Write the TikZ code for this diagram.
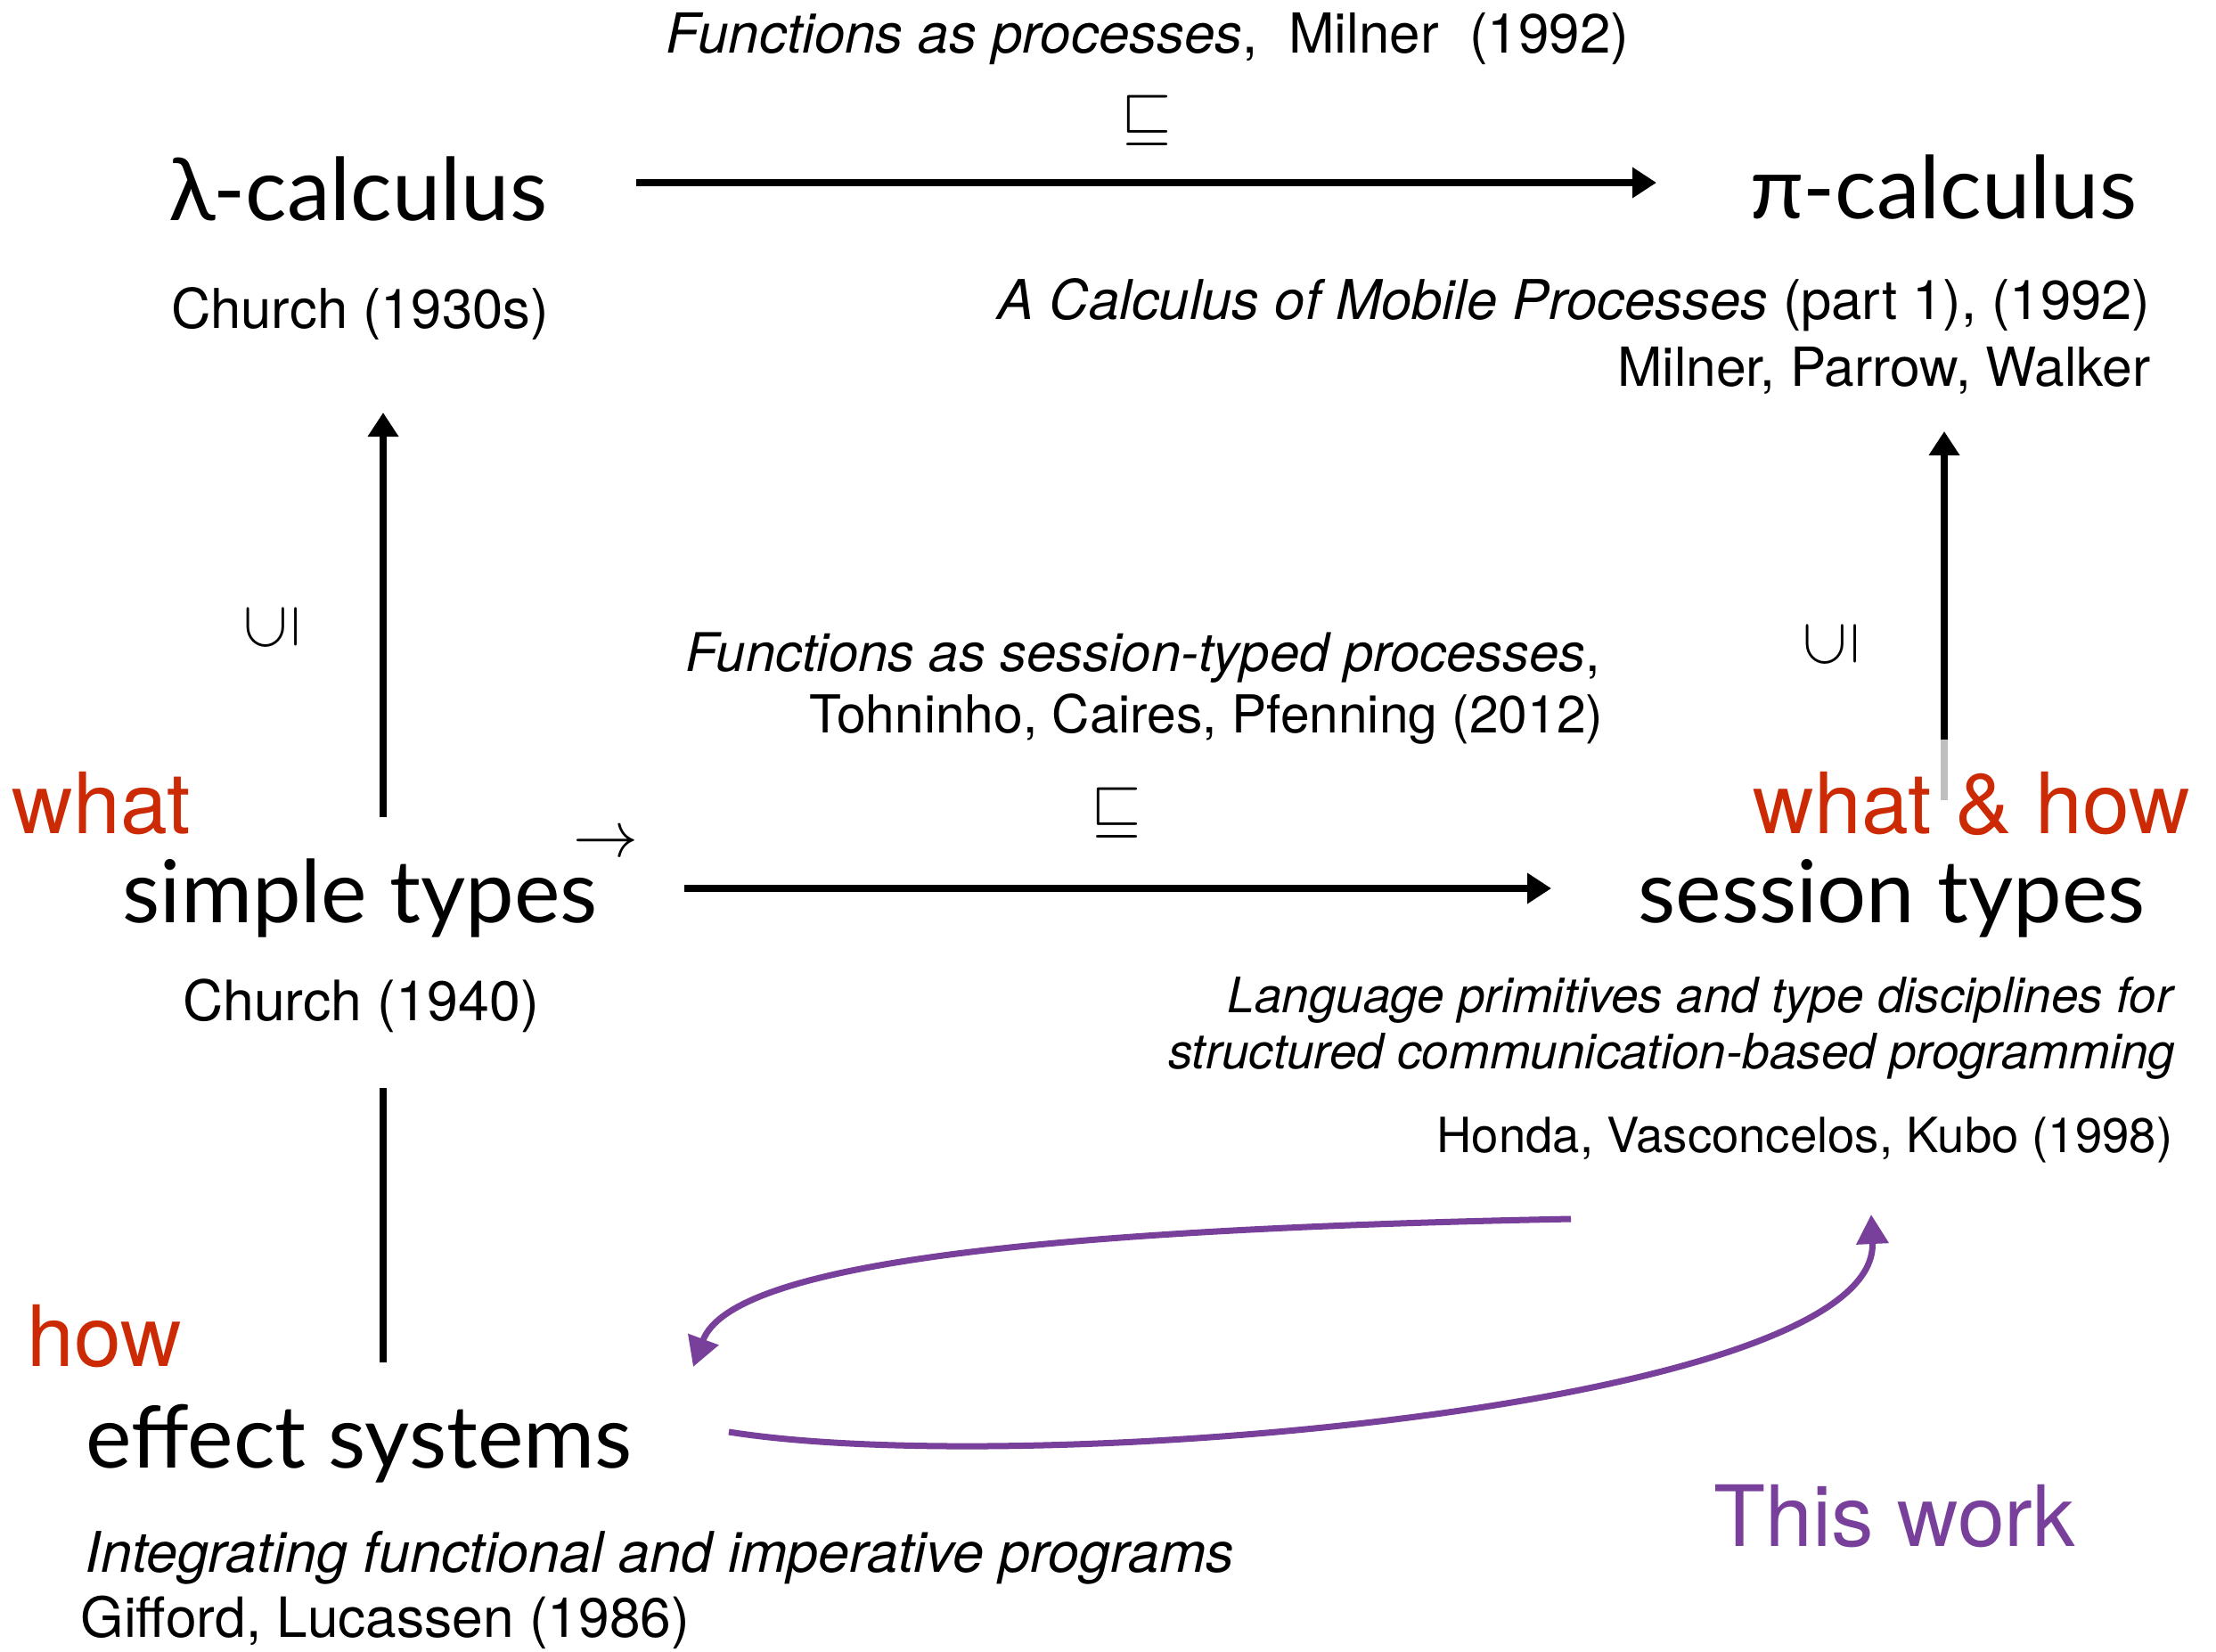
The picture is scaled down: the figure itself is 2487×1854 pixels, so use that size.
\documentclass[tikz,border=0pt]{standalone}
\usepackage{amssymb}
\usepackage{graphicx}
\usepackage{fontspec}
\setmainfont{TeX Gyre Heros}
\newfontfamily\calcfont{Lato}
\usetikzlibrary{arrows.meta}

\definecolor{whatred}{RGB}{204,41,5}
\definecolor{workpurple}{RGB}{120,64,155}

\newcommand{\paperfont}[1]{\fontsize{#1}{20}\selectfont}

\begin{document}
\begin{tikzpicture}[x=0.01cm, y=-0.01cm,
    calculus/.style={inner sep=0pt, anchor=base, font=\calcfont\fontsize{27.7}{32}\selectfont},
    paper/.style={inner sep=0pt, font=\paperfont{17}},
    keyword/.style={inner sep=0pt, anchor=base west, text=whatred, font=\fontsize{27}{32}\selectfont},
    relarrow/.style={line width=0.08cm, -{Triangle[length=0.27cm, width=0.33cm]}},
    workarrow/.style={line width=0.07cm, workpurple, -{Triangle[length=0.33cm, width=0.35cm]}}]
    \useasboundingbox (0,0) rectangle (2487,1854);

    % The calculi
    \node[calculus] (lambda) at (402,247) {λ-calculus};
    \node[calculus] (pi) at (2181,245) {π-calculus};
    \node[paper, font=\paperfont{17.5}] (church30) at (404,368) [anchor=base] {Church (1930s)};
    \node[paper, font=\paperfont{17.5}] (mobile) at (2414,358) [anchor=base east] {\textit{A Calculus of Mobile Processes} (part 1), (1992)};
    \node[paper, font=\paperfont{17.2}] (mpw) at (2414,433) [anchor=base east] {Milner, Parrow, Walker};

    % Top arrow: lambda into pi
    \node[paper, font=\paperfont{17.6}] (milner) at (1288,59) [anchor=base] {\textit{Functions as processes},\ \ Milner\ \ (1992)};
    \node[inner sep=0pt, font=\fontsize{20}{24}\selectfont] (sqtop) at (1287,135) {$\sqsubseteq$};
    \coordinate (lamE) at (714,205);
    \coordinate (piW) at (1859,205);
    \draw[relarrow] (lamE) -- (piW);

    % The types
    \node[calculus] (simple) at (404,1035) {simple types};
    \node[inner sep=0pt, font=\fontsize{21}{24}\selectfont] (fun) at (680,948) {$\rightarrow$};
    \node[paper, font=\paperfont{17.8}] (church40) at (405,1145) [anchor=base] {Church (1940)};
    \node[calculus] (session) at (2123,1035) {session types};
    \node[paper, font=\paperfont{15.6}] (lang) at (2442,1136) [anchor=base east] {\textit{Language primitives and type disciplines for}};
    \node[paper, font=\paperfont{15.6}] (struct) at (2442,1199) [anchor=base east] {\textit{structured communication-based programming}};
    \node[paper, font=\paperfont{15.5}] (honda) at (2439,1293) [anchor=base east] {Honda, Vasconcelos, Kubo (1998)};

    % Middle arrow: simple into session
    \node[paper] (sessfun) at (1797,753) [anchor=base east] {\textit{Functions as session-typed processes},};
    \node[paper, font=\paperfont{16.7}] (tcp) at (1800,822) [anchor=base east] {Tohninho, Caires, Pfenning (2012)};
    \node[inner sep=0pt, font=\fontsize{20}{24}\selectfont] (sqmid) at (1253,912) {$\sqsubseteq$};
    \coordinate (simE) at (768,997);
    \coordinate (sesW) at (1741,997);
    \draw[relarrow] (simE) -- (sesW);

    % Vertical arrows, types up to calculi
    \coordinate (simN) at (430,917);
    \coordinate (church30S) at (430,463);
    \draw[relarrow, line width=0.075cm] (simN) -- (church30S);
    \node[inner sep=0pt, font=\fontsize{20}{24}\selectfont] (supL) at (305,704) {\rotatebox{90}{$\subseteq$}};
    \coordinate (sesN) at (2182,830);
    \coordinate (sesNlow) at (2182,898);
    \coordinate (mpwS) at (2182,484);
    \draw[line width=0.075cm, black!25] (sesNlow) -- (sesN);
    \draw[relarrow, line width=0.075cm] (sesN) -- (mpwS);
    \node[inner sep=0pt, font=\fontsize{20}{24}\selectfont] (supR) at (2055,723) {\rotatebox{90}{$\subseteq$}};

    % what and how
    \node[keyword] (what) at (13,935) {what};
    \node[keyword] (whathow) at (1967,935) {what \& how};
    \node[keyword] (how) at (30,1533) {how};

    % Effect systems
    \node[calculus] (effect) at (403,1647) {effect systems};
    \node[paper, font=\paperfont{17.9}] (integ) at (95,1764) [anchor=base west] {\textit{Integrating functional and imperative programs}};
    \node[paper, font=\paperfont{17.7}] (gifford) at (90,1837) [anchor=base west] {Gifford, Lucassen (1986)};
    \coordinate (church40S) at (430,1221);
    \coordinate (effN) at (430,1529);
    \draw[line width=0.075cm] (church40S) -- (effN);

    % This work
    \node[keyword, text=workpurple] (work) at (1923,1735) {This work};
    \coordinate (hondaW) at (1763,1368);
    \coordinate (effNE) at (778,1534);
    \coordinate (effE) at (818,1607);
    \coordinate (hondaS) at (2100,1363);
    \draw[workarrow] (hondaW) .. controls (1150,1380) and (820,1420) .. (effNE);
    \draw[workarrow] (effE) .. controls (1150,1660) and (2110,1580) .. (hondaS);
\end{tikzpicture}
\end{document}
